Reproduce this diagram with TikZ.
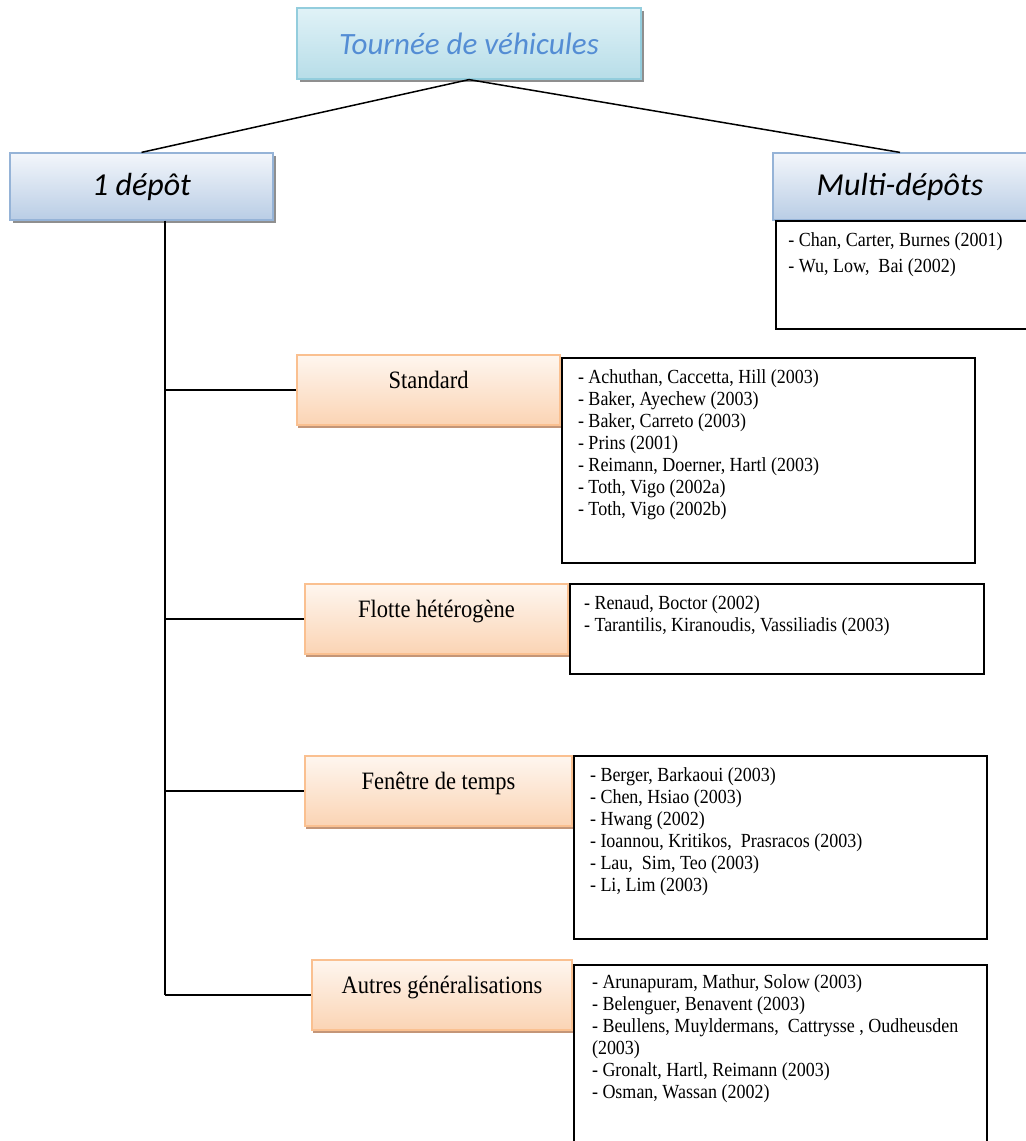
\documentclass[tikz,border=0pt]{standalone}
\usepackage{fontspec}
\usepackage{tikz}
\usetikzlibrary{positioning,shadows,calc}
\newfontfamily\headfont{Carlito}
\newfontfamily\reffont[FakeStretch=0.9]{Liberation Serif}
\newcommand{\pxunit}{0.5pt}
\definecolor{titleblue}{RGB}{84,141,212}
\definecolor{cyantop}{RGB}{224,242,247}
\definecolor{cyanbot}{RGB}{183,221,232}
\definecolor{cyanedge}{RGB}{147,205,221}
\definecolor{bluetop}{RGB}{243,246,251}
\definecolor{bluebot}{RGB}{185,205,229}
\definecolor{blueedge}{RGB}{149,179,215}
\definecolor{orangetop}{RGB}{254,246,239}
\definecolor{orangebot}{RGB}{251,212,180}
\definecolor{orangeedge}{RGB}{250,192,144}
\definecolor{orangeshadow}{RGB}{196,150,120}
\tikzset{
	titlebox/.style={draw=cyanedge, line width=0.6pt, top color=cyantop, bottom color=cyanbot,
		minimum width=172pt, minimum height=35.5pt, text=titleblue,
		font=\headfont\itshape\fontsize{15.5pt}{18pt}\selectfont,
		drop shadow={shadow xshift=1.5pt, shadow yshift=-1.5pt, fill=black!55, opacity=0.8}},
	depotbox/.style={draw=blueedge, line width=0.6pt, top color=bluetop, bottom color=bluebot,
		minimum height=33.5pt, font=\headfont\itshape\fontsize{16pt}{19pt}\selectfont,
		drop shadow={shadow xshift=1.5pt, shadow yshift=-1.5pt, fill=black!55, opacity=0.8}},
	catbox/.style={draw=orangeedge, line width=0.6pt, top color=orangetop, bottom color=orangebot,
		inner ysep=0pt, text height=16.5pt, text depth=18.5pt,
		font=\reffont\fontsize{12.5pt}{15pt}\selectfont,
		drop shadow={shadow xshift=0.5pt, shadow yshift=-1.6pt, fill=orangeshadow, opacity=1}},
	refbox/.style={draw=black, line width=1pt, fill=white, anchor=north west},
	reflist/.style={anchor=north west, inner sep=0pt, align=left,
		font=\reffont\fontsize{10pt}{11pt}\selectfont},
	link/.style={line width=0.75pt}
}

\begin{document}
\begin{tikzpicture}[x=\pxunit,y=-\pxunit]
	\useasboundingbox (0,0) rectangle (1025,1141);

	% top of the tree
	\node[titlebox] (tournee) at (469,43.5) {Tournée de véhicules};
	\node[depotbox, minimum width=131.5pt] (depot1) at (141.5,186.5) {1 dépôt};
	\node[depotbox, minimum width=127pt] (multi) at (900,186.5) {Multi-dépôts};

	\draw[link] (tournee.south) -- (depot1.north);
	\draw[link] (tournee.south) -- (multi.north);

	% multi-depot references
	\node[refbox, minimum width=127.5pt, minimum height=54pt] (multirefs) at (775,220) {};
	\node[reflist, font=\reffont\fontsize{10pt}{13pt}\selectfont] (multilist)
		at ($(multirefs.north west)+(13,12)$)
		{- Chan, Carter, Burnes (2001)\\- Wu, Low,~ Bai (2002)};

	% one depot branches
	\coordinate (spine) at (165,995);
	\node[catbox, minimum width=131.5pt] (standard) at (428.5,390) {Standard};
	\node[catbox, minimum width=131.5pt] (flotte) at (436.5,619) {Flotte hétérogène};
	\node[catbox, minimum width=133.5pt] (fenetre) at (438.5,791) {Fenêtre de temps};
	\node[catbox, minimum width=130pt] (autres) at (442,995) {Autres généralisations};

	\draw[link] (depot1.south -| spine) -- (spine);
	\draw[link] (spine |- standard.west) -- (standard.west);
	\draw[link] (spine |- flotte.west) -- (flotte.west);
	\draw[link] (spine |- fenetre.west) -- (fenetre.west);
	\draw[link] (spine |- autres.west) -- (autres.west);

	% reference boxes
	\node[refbox, minimum width=206.5pt, minimum height=102.5pt] (stdrefs)
		at ([yshift=-1.5pt]standard.north east) {};
	\node[refbox, minimum width=207pt, minimum height=45pt] (flotterefs)
		at (flotte.north east) {};
	\node[refbox, minimum width=206.5pt, minimum height=91.5pt] (fenetrerefs)
		at (fenetre.north east) {};
	\node[refbox, minimum width=206.5pt, minimum height=95pt] (autresrefs)
		at ([yshift=-2.5pt]autres.north east) {};

	\node[reflist] (stdlist) at ($(stdrefs.north west)+(17,12)$)
		{- Achuthan, Caccetta, Hill (2003)\\- Baker, Ayechew (2003)\\- Baker, Carreto (2003)\\
		- Prins (2001)\\- Reimann, Doerner, Hartl (2003)\\- Toth, Vigo (2002a)\\- Toth, Vigo (2002b)};
	\node[reflist] (flottelist) at ($(flotterefs.north west)+(15,12)$)
		{- Renaud, Boctor (2002)\\- Tarantilis, Kiranoudis, Vassiliadis (2003)};
	\node[reflist] (fenetrelist) at ($(fenetrerefs.north west)+(17,12)$)
		{- Berger, Barkaoui (2003)\\- Chen, Hsiao (2003)\\- Hwang (2002)\\
		- Ioannou, Kritikos,~ Prasracos (2003)\\- Lau,~ Sim, Teo (2003)\\- Li, Lim (2003)};
	\node[reflist] (autreslist) at ($(autresrefs.north west)+(19,10)$)
		{- Arunapuram, Mathur, Solow (2003)\\- Belenguer, Benavent (2003)\\
		- Beullens, Muyldermans,~ Cattrysse , Oudheusden\\(2003)\\
		- Gronalt, Hartl, Reimann (2003)\\- Osman, Wassan (2002)};
\end{tikzpicture}
\end{document}
